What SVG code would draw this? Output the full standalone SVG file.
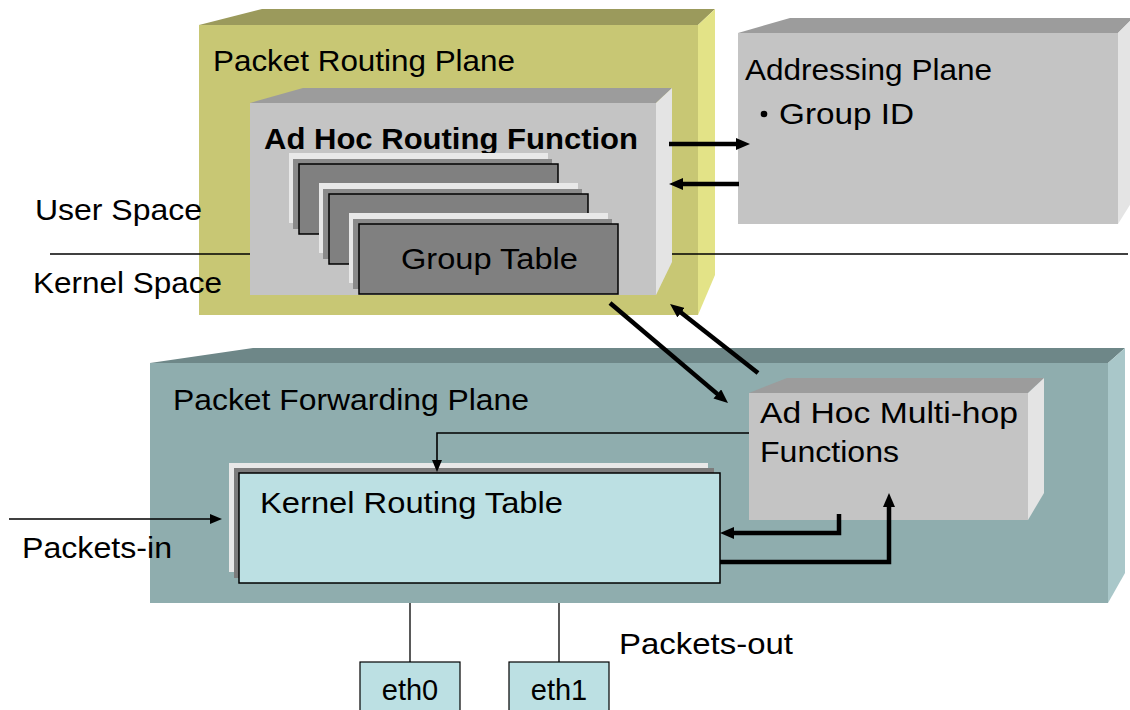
<svg xmlns="http://www.w3.org/2000/svg" width="1130" height="710" viewBox="0 0 1130 710">
<defs>
<style>
text{font-family:"Liberation Sans",Arial,sans-serif;fill:#000;font-size:29px}
.b{font-weight:bold}
.thick{fill:none;stroke:#000;stroke-width:4.5}
.thin{fill:none;stroke:#000;stroke-width:1.6}
.hair{fill:none;stroke:#000;stroke-width:1.3}
.yf{fill:#c8c774}.yt{fill:#9b9a5c}.ys{fill:#e3e387}
.gf{fill:#c4c4c4}.gt{fill:#9c9c9c}.gs{fill:#e4e4e4}
.tf{fill:#8fadae}.tt{fill:#6e8788}.ts{fill:#a9c7c9}
.lt{fill:#e8e8e8}.bk{fill:#8a8a8a}.cd{fill:#808080;stroke:#000;stroke-width:1.5}
.kr{fill:#bce0e3;stroke:#000;stroke-width:1.5}
</style>
<marker id="ah" markerUnits="userSpaceOnUse" viewBox="0 0 14 12" markerWidth="14" markerHeight="12" refX="3" refY="6" orient="auto"><path d="M0,0 L14,6 L0,12 Z" fill="#000"/></marker>
<marker id="as" markerUnits="userSpaceOnUse" viewBox="0 0 12 10" markerWidth="12" markerHeight="10" refX="2" refY="5" orient="auto"><path d="M0,0 L12,5 L0,10 Z" fill="#000"/></marker>
</defs>

<g id="packet-routing-plane">
<polygon class="yt" points="199,25 262,9 715,9 698,25"/>
<polygon class="ys" points="698,25 715,9 715,275 698,315"/>
<rect class="yf" x="199" y="25" width="499" height="290"/>
<text x="213" y="71" textLength="302" lengthAdjust="spacingAndGlyphs">Packet Routing Plane</text>
</g>

<g id="space-divider">
<line x1="50" y1="254" x2="1128" y2="254" stroke="#000" stroke-width="1.5"/>
<text x="35" y="220" textLength="167" lengthAdjust="spacingAndGlyphs">User Space</text>
<text x="33" y="293" textLength="189" lengthAdjust="spacingAndGlyphs">Kernel Space</text>
</g>

<g id="ad-hoc-routing-function">
<polygon class="gt" points="250,103 303,88 672,88 656,103"/>
<polygon class="gs" points="656,103 672,88 672,262 656,295"/>
<rect class="gf" x="250" y="103" width="406" height="192"/>
<text class="b" x="264" y="149" textLength="374" lengthAdjust="spacingAndGlyphs">Ad Hoc Routing Function</text>
</g>

<g id="group-tables">
<rect class="lt" x="289" y="153" width="259" height="70"/>
<rect class="bk" x="293" y="159" width="259" height="70"/>
<rect class="cd" x="299" y="164" width="259" height="70"/>
<rect class="lt" x="319" y="183" width="259" height="70"/>
<rect class="bk" x="323" y="189" width="259" height="70"/>
<rect class="cd" x="329" y="194" width="259" height="70"/>
<rect class="lt" x="349" y="213" width="259" height="70"/>
<rect class="bk" x="353" y="219" width="259" height="70"/>
<rect class="cd" x="359" y="224" width="259" height="70"/>
<text x="401" y="269" textLength="177" lengthAdjust="spacingAndGlyphs">Group Table</text>
</g>

<g id="addressing-plane">
<polygon class="gt" points="738,33 790,18 1133,18 1118,33"/>
<polygon class="gs" points="1118,33 1133,18 1133,200 1118,224"/>
<rect class="gf" x="738" y="33" width="380" height="191"/>
<text x="745" y="80" textLength="247" lengthAdjust="spacingAndGlyphs">Addressing Plane</text>
<circle cx="764" cy="114" r="3.3" fill="#000"/>
<text x="779" y="124" textLength="135" lengthAdjust="spacingAndGlyphs">Group ID</text>
</g>

<g id="packet-forwarding-plane">
<polygon class="tt" points="150,363 253,348 1125,348 1108,363"/>
<polygon class="ts" points="1108,363 1125,348 1125,573 1108,603"/>
<rect class="tf" x="150" y="363" width="958" height="240"/>
<text x="173" y="410" textLength="356" lengthAdjust="spacingAndGlyphs">Packet Forwarding Plane</text>
</g>

<g id="ad-hoc-multihop-functions">
<polygon class="gt" points="749,393 787,378 1044,378 1028,393"/>
<polygon class="gs" points="1028,393 1044,378 1044,493 1028,520"/>
<rect class="gf" x="749" y="393" width="279" height="127"/>
<text x="760" y="423" textLength="258" lengthAdjust="spacingAndGlyphs">Ad Hoc Multi-hop</text>
<text x="760" y="462" textLength="139" lengthAdjust="spacingAndGlyphs">Functions</text>
</g>

<g id="kernel-routing-table">
<rect class="lt" x="229" y="463" width="479" height="109"/>
<rect fill="#7c7c7c" x="234" y="468" width="480" height="110"/>
<rect class="kr" x="239" y="473" width="481" height="110"/>
<text x="260" y="513" textLength="303" lengthAdjust="spacingAndGlyphs">Kernel Routing Table</text>
</g>

<g id="eth0">
<rect class="kr" x="360" y="662" width="100" height="60" style="stroke-width:1.2"/>
<text x="410" y="700" text-anchor="middle">eth0</text>
</g>
<g id="eth1">
<rect class="kr" x="509" y="662" width="100" height="60" style="stroke-width:1.2"/>
<text x="559" y="700" text-anchor="middle">eth1</text>
</g>

<g id="labels">
<text x="22" y="558" textLength="150" lengthAdjust="spacingAndGlyphs">Packets-in</text>
<text x="619" y="654" textLength="174" lengthAdjust="spacingAndGlyphs">Packets-out</text>
</g>

<g id="connectors">
<path class="thick" d="M669,144 H739" marker-end="url(#ah)"/>
<path class="thick" d="M739,184 H680" marker-end="url(#ah)"/>
<path class="thick" d="M610,303 L719.6,395.9" marker-end="url(#ah)"/>
<path class="thick" d="M758,373 L678.7,310.8" marker-end="url(#ah)"/>
<path class="thick" d="M839,514 V533 H731" marker-end="url(#ah)"/>
<path class="thick" d="M720,562 H889 V504" marker-end="url(#ah)"/>
<path class="thin" d="M749,433 H437 V462" marker-end="url(#as)"/>
<path class="thin" d="M9,519 H212" marker-end="url(#as)"/>
<path class="hair" d="M410,603 V662"/>
<path class="hair" d="M559,603 V662"/>
</g>
</svg>
